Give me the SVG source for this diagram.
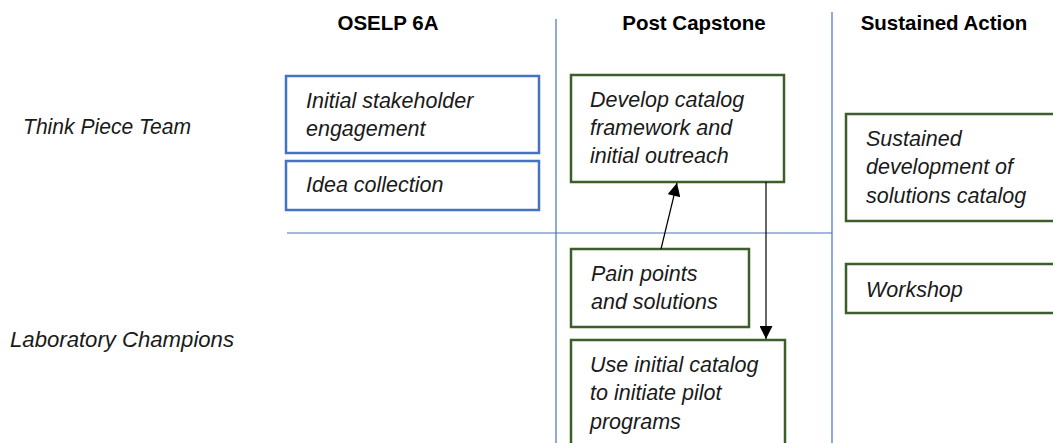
<svg xmlns="http://www.w3.org/2000/svg" width="1053" height="443" viewBox="0 0 1053 443">
<style>
.hdr{font-family:"Liberation Sans",Arial,sans-serif;font-weight:bold;font-size:20.5px;fill:#000}
.t{font-family:"Liberation Sans",Arial,sans-serif;font-style:italic;font-size:21.5px;fill:#1a1a1a}
.grid{stroke:#4472C4;stroke-width:1.2;fill:none}
.bb{fill:#fff;stroke:#4472C4;stroke-width:2.5}
.gb{fill:#fff;stroke:#3B5E2B;stroke-width:2.5}
.c{stroke:#000;stroke-width:1.2;fill:none}
</style>
<defs>
<marker id="ah2" viewBox="0 0 10 10" refX="10" refY="5" markerWidth="14" markerHeight="13" markerUnits="userSpaceOnUse" orient="auto"><path d="M0,0 L10,5 L0,10 z" fill="#000"/></marker>
</defs>
<rect width="1053" height="443" fill="#fff"/>
<g id="grid">
<line class="grid" x1="556" y1="19" x2="556" y2="443"/>
<line class="grid" x1="832" y1="12" x2="832" y2="443"/>
<line class="grid" x1="287" y1="233" x2="832" y2="233"/>
</g>
<g id="headers">
<text class="hdr" x="388" y="30" text-anchor="middle">OSELP 6A</text>
<text class="hdr" x="694" y="30" text-anchor="middle">Post Capstone</text>
<text class="hdr" x="944" y="30" text-anchor="middle">Sustained Action</text>
</g>
<g id="row-think">
<text class="t" x="23" y="134" textLength="168" lengthAdjust="spacingAndGlyphs">Think Piece Team</text>
</g>
<g id="row-lab">
<text class="t" x="10" y="347" textLength="224" lengthAdjust="spacingAndGlyphs">Laboratory Champions</text>
</g>
<g id="n-initial">
<rect class="bb" x="286" y="76" width="253" height="77"/>
<text class="t" x="306" y="108">Initial stakeholder</text>
<text class="t" x="306" y="136">engagement</text>
</g>
<g id="n-idea">
<rect class="bb" x="286" y="161" width="253" height="49"/>
<text class="t" x="306" y="192">Idea collection</text>
</g>
<g id="n-develop">
<rect class="gb" x="571" y="75" width="213" height="107"/>
<text class="t" x="590" y="107">Develop catalog</text>
<text class="t" x="590" y="135">framework and</text>
<text class="t" x="590" y="163">initial outreach</text>
</g>
<g id="n-sustained">
<rect class="gb" x="846" y="114" width="212" height="107"/>
<text class="t" x="866" y="146">Sustained</text>
<text class="t" x="866" y="174">development of</text>
<text class="t" x="866" y="203">solutions catalog</text>
</g>
<g id="n-workshop">
<rect class="gb" x="846" y="264" width="212" height="49"/>
<text class="t" x="866" y="297">Workshop</text>
</g>
<g id="n-pain">
<rect class="gb" x="571" y="249" width="178" height="78"/>
<text class="t" x="591" y="281">Pain points</text>
<text class="t" x="591" y="309">and solutions</text>
</g>
<g id="n-use">
<rect class="gb" x="571" y="340" width="214" height="110"/>
<text class="t" x="590" y="372">Use initial catalog</text>
<text class="t" x="590" y="400">to initiate pilot</text>
<text class="t" x="590" y="429">programs</text>
</g>
<g id="connectors">
<line class="c" x1="661" y1="249" x2="677" y2="183" marker-end="url(#ah2)"/>
<line class="c" x1="766" y1="182" x2="766" y2="339" marker-end="url(#ah2)"/>
</g>
</svg>
